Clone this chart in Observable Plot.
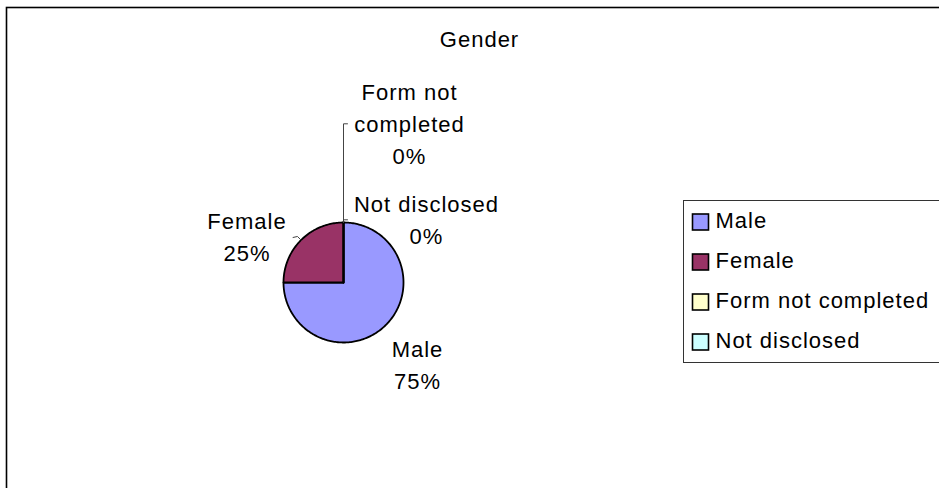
<!DOCTYPE html>
<html>
<head>
<meta charset="utf-8">
<script src="https://cdn.jsdelivr.net/npm/d3@7"></script>
<script src="https://cdn.jsdelivr.net/npm/@observablehq/plot@0.6"></script>
<style>
  html, body { margin: 0; padding: 0; background: #fff; overflow: hidden; }
  #chart svg text { letter-spacing: 1px; }
</style>
</head>
<body>
<div id="chart"></div>
<script>
// ---- data ----
const chartTitle = "Gender";
const categories = ["Male", "Female", "Form not completed", "Not disclosed"];
const values = [75, 25, 0, 0];
const percentLabels = ["75%", "25%", "0%", "0%"];
const labelNames = ["Male", "Female", "Form not\ncompleted", "Not disclosed"];

// ---- style / layout ----
const palette = ["#9999FF", "#993366", "#FFFFCC", "#CCFFFF"];
const W = 939, H = 488;
const cx = 343, cy = 282, r = 60;
const FONT = 22;
// label block centres (pixel layout of Excel's callouts)
const labelLayout = {
  "Male": [417, 362.5],
  "Female": [246.5, 234.5],
  "Form not completed": [409, 121],
  "Not disclosed": [426, 217]
};
const legend = {x0: 683, y0: 200, y1: 362, sw0: 692.5, sw1: 708.5, text: 715, row0: 220, step: 40};

const rows = categories.map((name, i) => ({name, value: values[i], pct: percentLabels[i], label: labelNames[i]}));

// pie geometry from the values
const arcs = d3.pie().sort(null).value(d => d.value).startAngle(0).endAngle(2 * Math.PI)(rows);
const pt = a => [cx + r * Math.sin(a), cy - r * Math.cos(a)];
const piePts = [];
for (const a of arcs) {
  const n = Math.max(2, Math.ceil((a.endAngle - a.startAngle) / 0.02));
  piePts.push({name: a.data.name, x: cx, y: cy});
  for (let k = 0; k <= n; k++) {
    const [x, y] = pt(a.startAngle + (a.endAngle - a.startAngle) * k / n);
    piePts.push({name: a.data.name, x, y});
  }
  piePts.push({name: a.data.name, x: cx, y: cy});
}

// data labels
const labelRows = rows.map(d => ({
  text: d.label + "\n" + d.pct,
  x: labelLayout[d.name][0],
  y: labelLayout[d.name][1]
}));

// leader lines, anchored at each slice's mid-angle on the rim
const leaders = [];
arcs.forEach(a => {
  const mid = (a.startAngle + a.endAngle) / 2;
  const [ex, ey] = pt(mid);
  const name = a.data.name;
  if (name === "Form not completed") {
    const ly = labelLayout[name][1] + 2.3;
    [[ex, ey], [ex, ly], [ex + 4, ly]].forEach(([x, y]) => leaders.push({id: name, x, y}));
  } else if (name === "Not disclosed") {
    [[ex, ey], [ex, ey - 2.7], [ex + 4, ey - 2.7]].forEach(([x, y]) => leaders.push({id: name, x, y}));
  } else if (name === "Female") {
    [[ex, ey], [ex - 3.6, ey - 3.6], [ex - 8, ey - 2.6]].forEach(([x, y]) => leaders.push({id: name, x, y}));
  }
});

const legendRows = rows.map((d, i) => ({name: d.name, cy: legend.row0 + i * legend.step}));

const plot = Plot.plot({
  width: W,
  height: H,
  margin: 0,
  x: {domain: [0, W], range: [0, W], axis: null},
  y: {domain: [0, H], range: [0, H], axis: null},
  color: {domain: categories, range: palette},
  style: {fontFamily: "'Liberation Sans', Arial, sans-serif", background: "#fff", overflow: "hidden"},
  marks: [
    // chart area border (extends beyond the right and bottom edges)
    Plot.rect([0], {x1: () => 6.5, x2: () => W + 20, y1: () => 7.5, y2: () => H + 20, fill: "none", stroke: "#000", strokeWidth: 1.6}),
    // title
    Plot.text([chartTitle], {x: () => 479, y: () => 39.7, text: d => d, fontSize: FONT, fill: "#000"}),
    // pie slices
    Plot.line(piePts, {x: "x", y: "y", z: "name", fill: "name", stroke: "#000", strokeWidth: 1.8, strokeLinejoin: "round"}),
    // leader lines
    Plot.line(leaders, {x: "x", y: "y", z: "id", stroke: "#444", strokeWidth: 1}),
    // data labels
    Plot.text(labelRows, {x: "x", y: "y", text: "text", fontSize: FONT, lineHeight: 1.45, fill: "#000"}),
    // legend box
    Plot.rect([0], {x1: () => legend.x0 + 0.5, x2: () => W + 10, y1: () => legend.y0 + 0.5, y2: () => legend.y1 + 0.5, fill: "#fff", stroke: "#333", strokeWidth: 1}),
    Plot.rect(legendRows, {x1: () => legend.sw0, x2: () => legend.sw1, y1: d => d.cy - 6, y2: d => d.cy + 10, fill: "name", stroke: "#000", strokeWidth: 1.6}),
    Plot.text(legendRows, {x: () => legend.text, y: "cy", text: "name", textAnchor: "start", fontSize: FONT, fill: "#000"})
  ]
});
document.getElementById("chart").appendChild(plot);
</script>
</body>
</html>
